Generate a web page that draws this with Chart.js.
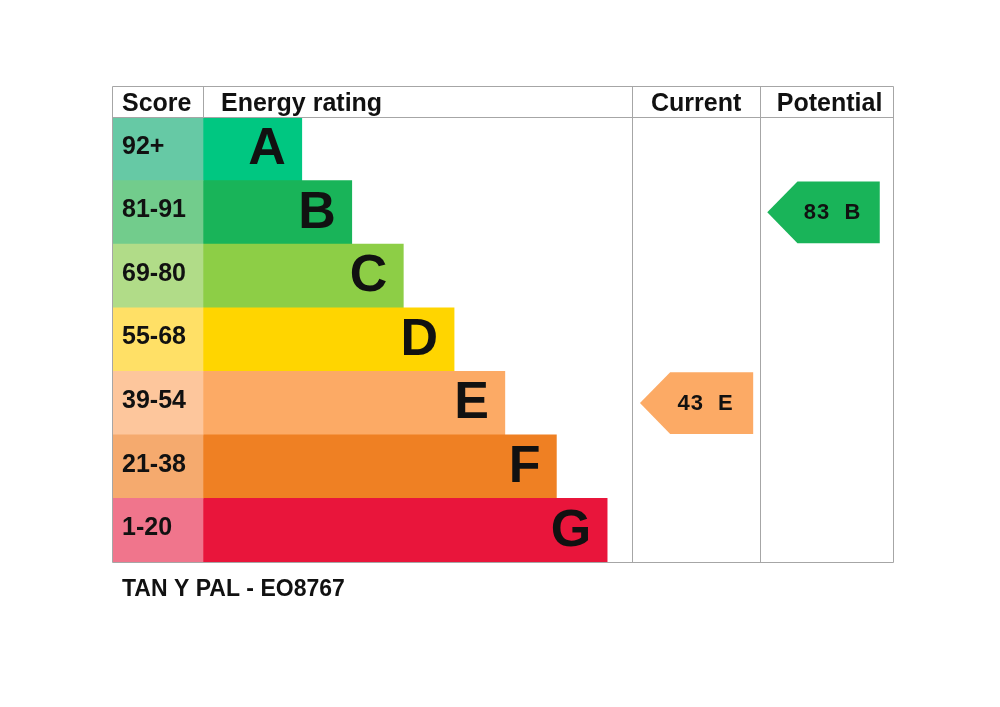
<!DOCTYPE html>
<html>
<head>
	<title>Energy rating</title>
	<script src="https://cdn.jsdelivr.net/npm/chart.js"></script>
	<style>
		body { margin: 0; background: #fff; }
		#wrap { width: 1000px; height: 707px; }
	</style>
</head>
<body>
	<div id="wrap">
		<canvas id="epcChart" width="1000" height="707"></canvas>
	</div>

<script>
    // chart data
    const ratings = ['A', 'B', 'C', 'D', 'E', 'F', 'G'];
    const scoreBands = ['92+', '81-91', '69-80', '55-68', '39-54', '21-38', '1-20'];
    const barEnds = [24.3, 30.7, 37.3, 43.8, 50.3, 56.9, 63.4];
    const bandColors = ['#00c781', '#19b459', '#8dce46', '#ffd500', '#fcaa65', '#ef8023', '#e9153b'];
    const scoreColors = ['#66c9a5', '#72cc8c', '#b1dc88', '#ffe066', '#fdc69c', '#f5aa6e', '#f0758c'];
    const headers = ['Score', 'Energy rating', 'Current', 'Potential'];
    const currentScore = 43;
    const currentBand = 'E';
    const potentialScore = 83;
    const potentialBand = 'B';
    const caption = 'TAN Y PAL - EO8767';

    // table layout, in x-scale units (0..100 across the table)
    const scoreEnd = 11.65;
    const currentCol = 66.6;
    const potentialCol = 83.0;
    const currentArrow = [67.6, 82.1];
    const potentialArrow = [83.9, 98.3];

    const FONT = '"Liberation Sans", Arial, sans-serif';
    const LINE = '#a6a6a6';

    const arrowData = (band, range) => ratings.map(r => r === band ? range : null);

    const epcPlugin = {
      id: 'epc',
      afterDatasetsDraw(chart) {
        const ctx = chart.ctx;
        const area = chart.chartArea;
        const xs = chart.scales.x;
        const ys = chart.scales.y;
        const headTop = area.top - 31;
        const xScoreEnd = xs.getPixelForValue(scoreEnd);
        const xCur = xs.getPixelForValue(currentCol);
        const xPot = xs.getPixelForValue(potentialCol);

        ctx.save();

        // arrows (datasets 2 and 3)
        [[2, currentScore, currentBand, bandColors[ratings.indexOf(currentBand)]],
         [3, potentialScore, potentialBand, bandColors[ratings.indexOf(potentialBand)]]].forEach(([di, score, band, col]) => {
          const el = chart.getDatasetMeta(di).data[ratings.indexOf(band)];
          const top = el.y - el.height / 2, bot = el.y + el.height / 2;
          const depth = el.height * 0.49;
          ctx.fillStyle = col;
          ctx.beginPath();
          ctx.moveTo(el.base, el.y);
          ctx.lineTo(el.base + depth, top);
          ctx.lineTo(el.x, top);
          ctx.lineTo(el.x, bot);
          ctx.lineTo(el.base + depth, bot);
          ctx.closePath();
          ctx.fill();
          ctx.fillStyle = '#111';
          ctx.font = 'bold 22px ' + FONT;
          ctx.textAlign = 'center';
          ctx.textBaseline = 'middle';
          ctx.letterSpacing = '1px';
          ctx.fillText(score + '  ' + band, (el.base + el.x) / 2 + 9, el.y + 1);
          ctx.letterSpacing = '0px';
        });

        // score labels and band letters
        ratings.forEach((r, i) => {
          const y = ys.getPixelForValue(i);
          ctx.fillStyle = '#111';
          ctx.textBaseline = 'middle';
          ctx.textAlign = 'left';
          ctx.font = 'bold 25px ' + FONT;
          ctx.fillText(scoreBands[i], area.left + 10, y - 2);
          ctx.textAlign = 'right';
          ctx.font = 'bold 52px ' + FONT;
          ctx.fillText(r, xs.getPixelForValue(barEnds[i]) - 16, y + 1);
        });

        // table lines
        ctx.strokeStyle = LINE;
        ctx.lineWidth = 1;
        const L = Math.round(area.left) + 0.5, R = Math.round(area.right) + 0.5;
        const T = Math.round(headTop) + 0.5, H = Math.round(area.top) + 0.5, B = Math.round(area.bottom) + 0.5;
        ctx.beginPath();
        ctx.moveTo(L, T); ctx.lineTo(R, T);
        ctx.moveTo(L, H); ctx.lineTo(R, H);
        ctx.moveTo(L, B); ctx.lineTo(R, B);
        ctx.moveTo(L, T); ctx.lineTo(L, B);
        ctx.moveTo(R, T); ctx.lineTo(R, B);
        ctx.moveTo(Math.round(xScoreEnd) + 0.5, T); ctx.lineTo(Math.round(xScoreEnd) + 0.5, H);
        ctx.moveTo(Math.round(xCur) + 0.5, T); ctx.lineTo(Math.round(xCur) + 0.5, B);
        ctx.moveTo(Math.round(xPot) + 0.5, T); ctx.lineTo(Math.round(xPot) + 0.5, B);
        ctx.stroke();

        // header row
        const hy = (headTop + area.top) / 2 + 3;
        ctx.fillStyle = '#111';
        ctx.font = 'bold 25px ' + FONT;
        ctx.textBaseline = 'middle';
        ctx.textAlign = 'left';
        ctx.fillText(headers[0], area.left + 10, hy);
        ctx.fillText(headers[1], xScoreEnd + 18, hy);
        ctx.textAlign = 'center';
        ctx.fillText(headers[2], (xCur + xPot) / 2, hy);
        ctx.fillText(headers[3], (xPot + area.right) / 2 + 3, hy);

        // caption
        ctx.textAlign = 'left';
        ctx.font = 'bold 23px ' + FONT;
        ctx.fillText(caption, area.left + 10, area.bottom + 28);

        ctx.restore();
      }
    };

    new Chart(document.getElementById('epcChart'), {
      type: 'bar',
      data: {
        labels: ratings,
        datasets: [
          { label: 'Score', data: ratings.map(() => [0, scoreEnd]), backgroundColor: scoreColors },
          { label: 'Energy rating', data: barEnds.map(v => [scoreEnd, v]), backgroundColor: bandColors },
          { label: 'Current', data: arrowData(currentBand, currentArrow), backgroundColor: 'rgba(0,0,0,0)', barPercentage: 0.97 },
          { label: 'Potential', data: arrowData(potentialBand, potentialArrow), backgroundColor: 'rgba(0,0,0,0)', barPercentage: 0.97 }
        ]
      },
      options: {
        indexAxis: 'y',
        responsive: false,
        animation: false,
        events: [],
        grouped: false,
        categoryPercentage: 1,
        barPercentage: 1,
        borderWidth: 0,
        layout: { padding: { left: 112, right: 107, top: 117, bottom: 145 } },
        scales: {
          x: { type: 'linear', min: 0, max: 100, display: false },
          y: { display: false }
        },
        plugins: {
          legend: { display: false },
          tooltip: { enabled: false }
        }
      },
      plugins: [epcPlugin]
    });
</script>
</body>
</html>
